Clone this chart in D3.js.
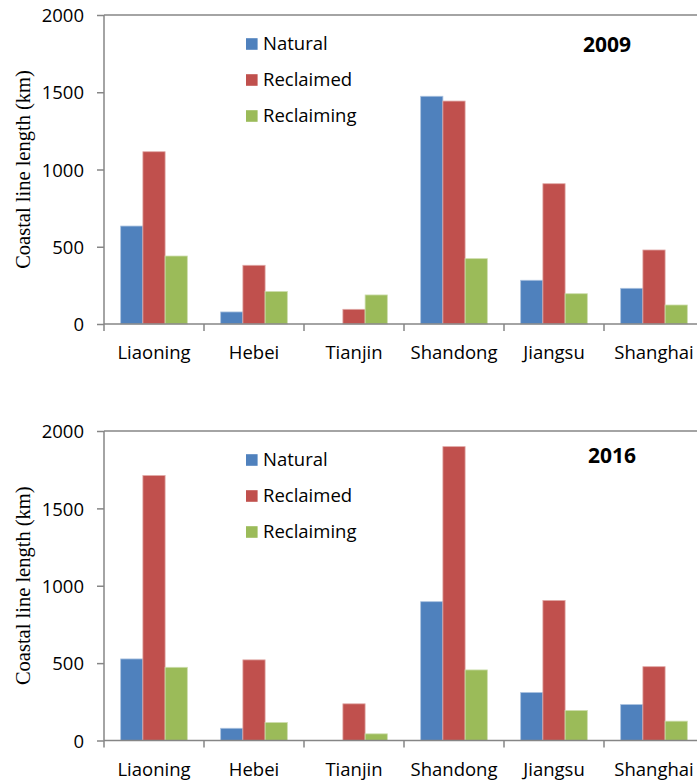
<!DOCTYPE html>
<html>
<head>
<meta charset="utf-8">
<script src="https://cdn.jsdelivr.net/npm/d3@7"></script>
<style>
  html, body { margin: 0; padding: 0; background: #fff; }
  svg { display: block; }
  .sans { font-family: "Open Sans", "Noto Sans", sans-serif; fill: #000; }
  .serif { font-family: "Liberation Serif", "DejaVu Serif", serif; fill: #000; }
</style>
</head>
<body>
<script>
// Coastline length by province and type, 2009 and 2016 (km)
const categories = ["Liaoning", "Hebei", "Tianjin", "Shandong", "Jiangsu", "Shanghai"];
const seriesNames = ["Natural", "Reclaimed", "Reclaiming"];
const seriesColors = ["#4F81BD", "#C0504D", "#9BBB59"];
const seriesEdges = ["#A9C1DF", "#E0A8A6", "#CDDDAC"];
const yTicks = [0, 500, 1000, 1500, 2000];

const natural2009 = [634, 78, 0, 1474, 283, 231];
const reclaimed2009 = [1115, 380, 95, 1443, 908, 479];
const reclaiming2009 = [440, 210, 188, 423, 196, 123];

const natural2016 = [527, 79, 0, 897, 310, 232];
const reclaimed2016 = [1712, 521, 237, 1899, 905, 477];
const reclaiming2016 = [473, 116, 43, 456, 194, 125];

const W = 697, H = 783;
const axisColor = "#868686";

const svg = d3.select("body").append("svg")
  .attr("width", W).attr("height", H)
  .attr("viewBox", `0 0 ${W} ${H}`);

const x0 = d3.scaleBand().domain(categories).range([104, 704]).padding(0);
const x1 = d3.scaleBand().domain(seriesNames)
  .range([x0.bandwidth() / 6, x0.bandwidth() * 5 / 6]).padding(0);

function panel(opts) {
  const { top, bottom, year, yearX, yearY, values } = opts;
  const y = d3.scaleLinear().domain([0, 2000]).range([bottom, top]);
  const g = svg.append("g");

  // plot frame: top border
  g.append("line")
    .attr("x1", 104).attr("x2", W + 10)
    .attr("y1", y(2000)).attr("y2", y(2000))
    .attr("stroke", axisColor).attr("stroke-width", 1.5);

  // bars
  const rows = [];
  categories.forEach((c, i) => {
    seriesNames.forEach((s, j) => {
      rows.push({ c, s, j, v: values[j][i] });
    });
  });
  g.append("g").selectAll("rect")
    .data(rows.filter(d => d.v > 0))
    .join("rect")
    .attr("x", d => x0(d.c) + x1(d.s))
    .attr("width", x1.bandwidth())
    .attr("y", d => y(d.v))
    .attr("height", d => y(0) - y(d.v))
    .attr("fill", d => seriesColors[d.j])
    .attr("stroke", d => seriesEdges[d.j])
    .attr("stroke-width", 0.8);

  // y axis
  const yAxis = g.append("g")
    .attr("transform", "translate(104,0)")
    .call(d3.axisLeft(y).tickValues(yTicks).tickSize(7).tickPadding(13).tickFormat(d3.format("d")));
  yAxis.attr("font-family", null).attr("font-size", null);
  yAxis.select(".domain").attr("stroke", axisColor).attr("stroke-width", 1.5)
    .attr("d", `M0,${y(0)}V${y(2000)}`);
  yAxis.selectAll(".tick line").attr("stroke", axisColor).attr("stroke-width", 1.5);
  yAxis.selectAll(".tick text")
    .attr("class", "sans")
    .style("font-size", "18.5px")
    .attr("dy", "0.36em");

  // x axis line with boundary ticks
  g.append("line")
    .attr("x1", 104).attr("x2", W + 10)
    .attr("y1", y(0)).attr("y2", y(0))
    .attr("stroke", axisColor).attr("stroke-width", 1.5);
  const bounds = categories.map(c => x0(c)).concat([x0.range()[1]]);
  g.append("g").selectAll("line.bt")
    .data(bounds)
    .join("line")
    .attr("x1", d => d).attr("x2", d => d)
    .attr("y1", y(0)).attr("y2", y(0) + 7)
    .attr("stroke", axisColor).attr("stroke-width", 1.5);
  const xAxis = g.append("g")
    .attr("transform", `translate(0,${y(0)})`)
    .call(d3.axisBottom(x0).tickSize(0).tickPadding(0));
  xAxis.attr("font-family", null).attr("font-size", null);
  xAxis.select(".domain").remove();
  xAxis.selectAll(".tick text")
    .attr("class", "sans")
    .style("font-size", "18.5px")
    .attr("dy", null)
    .attr("y", 35);

  // y axis title
  g.append("text")
    .attr("class", "serif")
    .attr("transform", `translate(30,${(y(0) + y(2000)) / 2}) rotate(-90)`)
    .attr("text-anchor", "middle")
    .style("font-size", "20.5px")
    .text("Coastal line length (km)");

  // legend
  const leg = g.append("g");
  seriesNames.forEach((s, j) => {
    const cy = y(2000) + 29 + j * 36;
    leg.append("rect")
      .attr("x", 246).attr("y", cy - 5.8)
      .attr("width", 11.6).attr("height", 11.6)
      .attr("fill", seriesColors[j]);
    leg.append("text")
      .attr("class", "sans")
      .attr("x", 263).attr("y", cy + 6)
      .style("font-size", "18.5px")
      .text(s);
  });

  // year label
  g.append("text")
    .attr("class", "sans")
    .attr("x", yearX).attr("y", yearY)
    .attr("text-anchor", "middle")
    .style("font-size", "21px")
    .style("font-weight", "bold")
    .text(year);
}

panel({
  top: 15, bottom: 324, year: "2009", yearX: 607, yearY: 52,
  values: [natural2009, reclaimed2009, reclaiming2009]
});
panel({
  top: 431, bottom: 740.5, year: "2016", yearX: 612, yearY: 463,
  values: [natural2016, reclaimed2016, reclaiming2016]
});
</script>
</body>
</html>
